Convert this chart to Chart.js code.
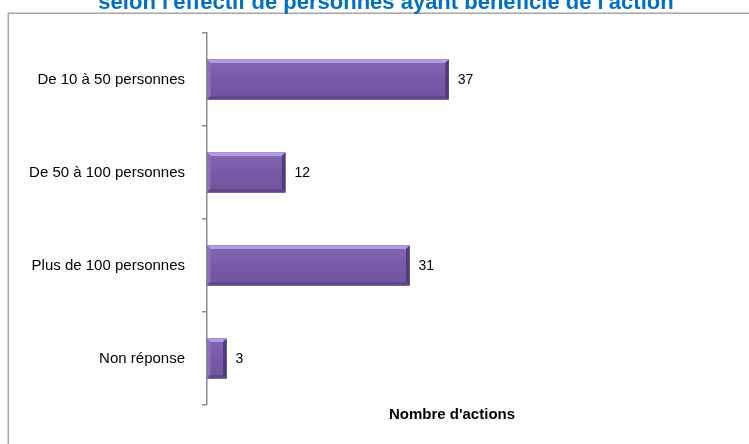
<!DOCTYPE html>
<html>
<head>
<meta charset="utf-8">
<script src="https://cdn.jsdelivr.net/npm/chart.js@4.4.1/dist/chart.umd.min.js"></script>
<style>
  html, body { margin: 0; padding: 0; background: #fff; overflow: hidden; }
  #wrap { position: relative; width: 749px; height: 444px; }
</style>
</head>
<body>
<div id="wrap"><canvas id="c" width="749" height="444"></canvas></div>
<script>
// Répartition des actions selon l'effectif de bénéficiaires
const categories = ['De 10 à 50 personnes', 'De 50 à 100 personnes', 'Plus de 100 personnes', 'Non réponse'];
const nombreActions = [37, 12, 31, 3];
const chartTitle = "selon l'effectif de personnes ayant bénéficié de l'action";
const axisTitle = "Nombre d'actions";

const FONT = "'Liberation Sans', Arial, sans-serif";

// Cadre gris autour du graphique et titre bleu
const framePlugin = {
  id: 'frame',
  beforeDraw(chart) {
    const ctx = chart.ctx;
    ctx.save();
    ctx.fillStyle = '#fff';
    ctx.fillRect(0, 0, chart.width, chart.height);
    ctx.strokeStyle = '#a6a6a6';
    ctx.lineWidth = 1.5;
    ctx.strokeRect(8.25, 13.25, 900, 600);
    ctx.fillStyle = '#0070c0';
    ctx.font = 'bold 22px ' + FONT;
    ctx.textAlign = 'center';
    ctx.textBaseline = 'alphabetic';
    ctx.fillText(chartTitle, 386, 9);
    ctx.restore();
  }
};

// Effet biseauté des barres et étiquettes de valeurs
const bevelPlugin = {
  id: 'bevel',
  afterDatasetsDraw(chart) {
    const ctx = chart.ctx;
    const meta = chart.getDatasetMeta(0);
    ctx.save();
    meta.data.forEach((bar, i) => {
      const p = bar.getProps(['x', 'y', 'base', 'height'], true);
      const x0 = p.base, x1 = p.x;
      const y0 = p.y - p.height / 2, y1 = p.y + p.height / 2;
      if (![x0, x1, y0, y1].every(Number.isFinite)) return;
      const b = 3.5;
      // dégradé du corps
      const g = ctx.createLinearGradient(0, y0, 0, y1);
      g.addColorStop(0, '#8667b6');
      g.addColorStop(0.5, '#7859a8');
      g.addColorStop(1, '#70529e');
      ctx.fillStyle = g;
      ctx.fillRect(x0, y0, x1 - x0, y1 - y0);
      // haut clair
      ctx.fillStyle = '#b29ae0';
      ctx.beginPath();
      ctx.moveTo(x0, y0); ctx.lineTo(x1, y0); ctx.lineTo(x1 - b, y0 + b); ctx.lineTo(x0 + b, y0 + b); ctx.closePath(); ctx.fill();
      // gauche
      ctx.fillStyle = '#8d70bd';
      ctx.beginPath();
      ctx.moveTo(x0, y0); ctx.lineTo(x0 + b, y0 + b); ctx.lineTo(x0 + b, y1 - b); ctx.lineTo(x0, y1); ctx.closePath(); ctx.fill();
      // droite sombre
      ctx.fillStyle = '#4f3b7a';
      ctx.beginPath();
      ctx.moveTo(x1, y0); ctx.lineTo(x1, y1); ctx.lineTo(x1 - b, y1 - b); ctx.lineTo(x1 - b, y0 + b); ctx.closePath(); ctx.fill();
      // bas
      ctx.fillStyle = '#5f4a88';
      ctx.beginPath();
      ctx.moveTo(x0, y1); ctx.lineTo(x1, y1); ctx.lineTo(x1 - b, y1 - b); ctx.lineTo(x0 + b, y1 - b); ctx.closePath(); ctx.fill();

      // valeur
      ctx.fillStyle = '#000';
      ctx.font = '14px ' + FONT;
      ctx.textAlign = 'left';
      ctx.textBaseline = 'middle';
      ctx.fillText(String(nombreActions[i]), x1 + 9, p.y + 1);
    });
    ctx.restore();
  }
};

const ctx = document.getElementById('c').getContext('2d');

new Chart(ctx, {
  type: 'bar',
  data: {
    labels: categories,
    datasets: [{
      data: nombreActions,
      backgroundColor: '#7858a6',
      borderWidth: 0,
      categoryPercentage: 1,
      barPercentage: 0.43
    }]
  },
  options: {
    indexAxis: 'y',
    responsive: false,
    animation: false,
    devicePixelRatio: 1,
    layout: { padding: { top: 33, left: 0, right: 52, bottom: 0 } },
    plugins: {
      legend: { display: false },
      title: { display: false },
      tooltip: { enabled: false }
    },
    scales: {
      y: {
        position: 'left',
        afterFit(s) { s.width = 207; },
        grid: { display: true, drawOnChartArea: false, tickLength: 5, color: '#8c8c8c', lineWidth: 1.5, offset: true },
        border: { display: true, color: '#8c8c8c', width: 1.5 },
        ticks: { color: '#000', padding: 17, font: { family: FONT, size: 15 } }
      },
      x: {
        min: 0,
        max: 75,
        afterFit(s) { s.height = 39; },
        grid: { display: false },
        border: { display: false },
        ticks: { display: false },
        title: {
          display: true,
          text: axisTitle,
          color: '#000',
          font: { family: FONT, size: 15, weight: 'bold' },
          padding: { top: 0, bottom: 20 }
        }
      }
    }
  },
  plugins: [framePlugin, bevelPlugin]
});
</script>
</body>
</html>
